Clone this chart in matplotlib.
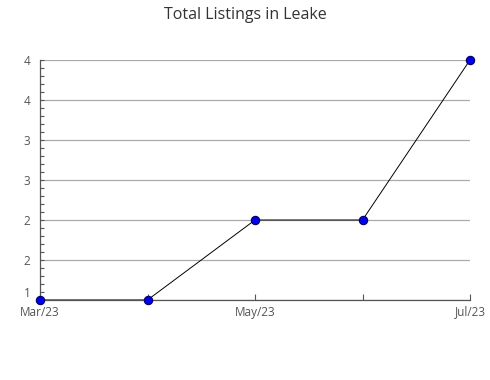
import matplotlib
matplotlib.use("Agg")
import matplotlib.pyplot as plt
import numpy as np

months = ["Mar/23", "Apr/23", "May/23", "Jun/23", "Jul/23"]
listings = [1, 1, 2, 2, 4]
y_ticks = [1, 1.5, 2, 2.5, 3, 3.5, 4]
y_tick_labels = ["1", "2", "2", "3", "3", "4", "4"]

plt.rcParams['font.family'] = ['Open Sans', 'DejaVu Sans']

fig = plt.figure(figsize=(4.9, 3.8), dpi=100)
ax = fig.add_axes([40 / 490, 80 / 380, 430 / 490, 240 / 380])

x = np.arange(len(months))
ax.plot(x, listings, color='black', linewidth=0.7, zorder=3)
ax.plot(x, listings, 'o', markersize=6, markerfacecolor='#0000ee',
        markeredgecolor='#000066', markeredgewidth=0.8, zorder=4, clip_on=False)

ax.set_xlim(0, len(months) - 1)
ax.set_ylim(1, 4)
ax.set_yticks(y_ticks)
ax.set_yticklabels(y_tick_labels)
ax.set_yticks(np.arange(1, 4.01, 0.1), minor=True)
ax.set_xticks(x)
ax.set_xticklabels([m if i % 2 == 0 else "" for i, m in enumerate(months)])

ax.grid(axis='y', color='#aaaaaa', linewidth=0.9)
ax.set_axisbelow(True)

for side in ['top', 'right']:
    ax.spines[side].set_visible(False)
for side in ['left', 'bottom']:
    ax.spines[side].set_color('#555555')
    ax.spines[side].set_linewidth(0.9)

ax.tick_params(axis='y', which='major', direction='in', length=3, width=0.8,
               color='#555555', labelsize=8.5, labelcolor='#555555', pad=7)
ax.tick_params(axis='y', which='minor', direction='in', length=3, width=0.8,
               color='#555555')
ax.tick_params(axis='x', which='major', direction='in', length=4, width=0.8,
               color='#555555', labelsize=8.5, labelcolor='#555555', pad=4)

# nudge the bottom "1" up a little so it sits beside the first month label
ax.get_yticklabels()[0].set_verticalalignment('bottom')

fig.suptitle("Total Listings in Leake", x=245 / 490, y=1 - 15 / 380,
             fontsize=11.5, color='#333333', va='center')

fig.savefig("out.png", dpi=100)
